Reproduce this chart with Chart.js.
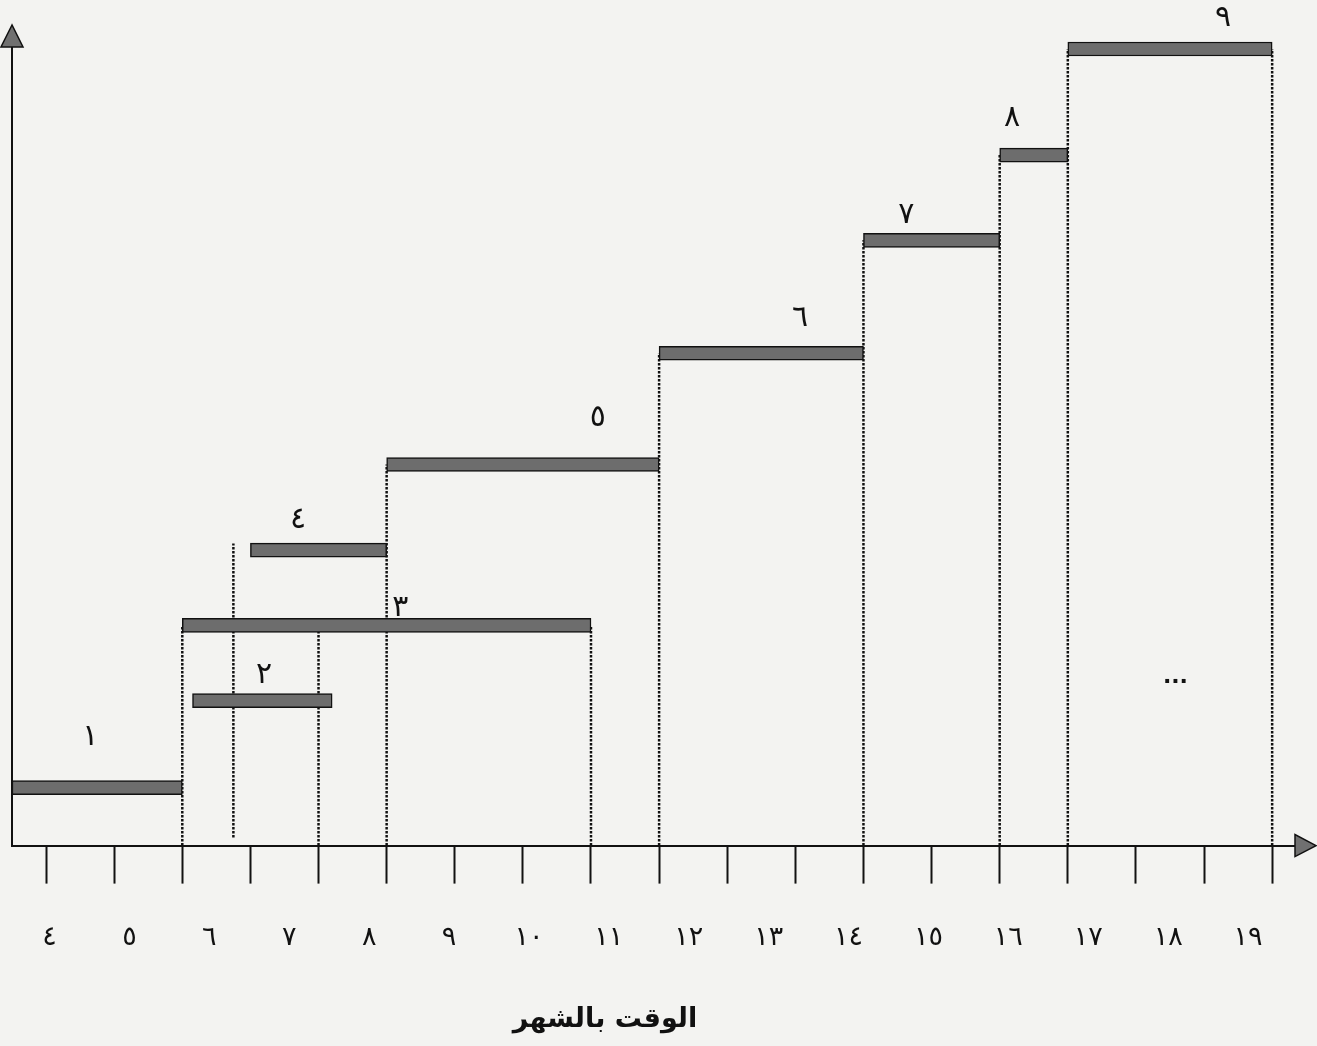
<!DOCTYPE html>
<html lang="ar">
<head>
<meta charset="utf-8">
<title>الوقت بالشهر</title>
<script src="https://cdn.jsdelivr.net/npm/chart.js@4.4.1/dist/chart.umd.min.js"></script>
<style>
  html, body { margin: 0; padding: 0; background: #f3f3f1; }
  #wrap { position: relative; width: 1317px; height: 1046px; }
</style>
</head>
<body>
<div id="wrap"><canvas id="chart"></canvas></div>
<script>
  // Activities: start / end on the month axis (in tick steps) and their height.
  var barNames = ['١', '٢', '٣', '٤', '٥', '٦', '٧', '٨', '٩'];
  var barStart = [-0.5, 2.15, 2, 3, 5, 9, 12, 14, 15];
  var barEnd   = [2, 4.2, 8, 5, 9, 12, 14, 15, 18];
  var barLevel = [7.25, 18.1, 27.5, 36.9, 47.6, 61.5, 75.6, 86.25, 99.5];

  // Where each activity number is written.
  var nameX = [0.65, 3.2, 5.2, 3.7, 8.1, 11.07, 12.63, 14.18, 17.28];
  var nameY = [13.5, 21.25, 29.6, 40.6, 53.4, 65.9, 78.75, 90.9, 103.4];

  // The trailing "..." mark.
  var moreX = 16.58;
  var moreY = 21;

  // Dotted drop lines down to the time axis.
  var dropX      = [2, 2.75, 4, 5, 8, 9, 12, 14, 15, 18];
  var dropBottom = [0, 1, 0, 0, 0, 0, 0, 0, 0, 0];
  var dropTop    = [27.5, 37.75, 27.5, 47.6, 27.5, 61.5, 75.6, 86.25, 99.5, 99.5];

  // Month labels under the axis.
  var monthValues = [4, 5, 6, 7, 8, 9, 10, 11, 12, 13, 14, 15, 16, 17, 18, 19];
  var monthLabels = ['٤', '٥', '٦', '٧', '٨', '٩', '١٠', '١١', '١٢', '١٣', '١٤', '١٥', '١٦', '١٧', '١٨', '١٩'];

  var axisCaption = 'الوقت بالشهر';

  var INK = '#111111';
  var BAR_GREY = '#6d6d6d';

  var bars = barStart.map(function (s, i) {
    return { x: [s, barEnd[i]], y: barLevel[i] };
  });

  var dropSets = dropX.map(function (x, i) {
    return {
      type: 'line',
      data: [{ x: x, y: dropBottom[i] }, { x: x, y: dropTop[i] }],
      borderColor: INK,
      borderWidth: 2.5,
      borderDash: [2.5, 1.5],
      pointRadius: 0,
      fill: false,
      order: 2
    };
  });

  // Axis arrowheads, activity numbers and the axis caption.
  var sketchExtras = {
    id: 'sketchExtras',
    afterDraw: function (chart) {
      var ctx = chart.ctx;
      var area = chart.chartArea;
      var xs = chart.scales.x;
      var ys = chart.scales.y;

      ctx.save();
      ctx.fillStyle = '#707070';
      ctx.strokeStyle = INK;
      ctx.lineWidth = 1.5;
      ctx.lineJoin = 'miter';

      ctx.beginPath();
      ctx.moveTo(area.left, area.top - 5);
      ctx.lineTo(area.left - 11, area.top + 17);
      ctx.lineTo(area.left + 11, area.top + 17);
      ctx.closePath();
      ctx.fill();
      ctx.stroke();

      ctx.beginPath();
      ctx.moveTo(area.right + 20, area.bottom);
      ctx.lineTo(area.right - 1, area.bottom - 11);
      ctx.lineTo(area.right - 1, area.bottom + 11);
      ctx.closePath();
      ctx.fill();
      ctx.stroke();

      ctx.fillStyle = INK;
      ctx.textAlign = 'center';
      ctx.textBaseline = 'middle';
      ctx.font = '30px "DejaVu Sans", sans-serif';
      barNames.forEach(function (name, i) {
        ctx.fillText(name, xs.getPixelForValue(nameX[i]), ys.getPixelForValue(nameY[i]));
      });

      ctx.font = 'bold 22px "DejaVu Sans", sans-serif';
      ctx.fillText('...', xs.getPixelForValue(moreX), ys.getPixelForValue(moreY));

      ctx.font = 'bold 27px "DejaVu Sans", sans-serif';
      ctx.fillText(axisCaption, 605, 1020);
      ctx.restore();
    }
  };

  new Chart(document.getElementById('chart'), {
    type: 'bar',
    data: {
      datasets: [{
        type: 'bar',
        indexAxis: 'y',
        data: bars,
        backgroundColor: BAR_GREY,
        borderColor: INK,
        borderWidth: 1.5,
        borderSkipped: false,
        barThickness: 14,
        order: 1
      }].concat(dropSets)
    },
    options: {
      responsive: true,
      maintainAspectRatio: false,
      animation: false,
      layout: {
        padding: { left: 12, right: 21, top: 30, bottom: 54 }
      },
      plugins: {
        legend: { display: false },
        tooltip: { enabled: false }
      },
      scales: {
        x: {
          type: 'linear',
          position: 'bottom',
          min: -0.5,
          max: 18.35,
          offset: false,
          border: { display: true, color: INK, width: 2 },
          grid: {
            display: true,
            drawOnChartArea: false,
            drawTicks: true,
            tickLength: 38,
            tickColor: INK,
            tickWidth: 2,
            offset: false
          },
          ticks: {
            display: false,
            stepSize: 1,
            autoSkip: false,
            includeBounds: false
          }
        },
        x2: {
          type: 'linear',
          position: 'bottom',
          axis: 'x',
          min: 3.53,
          max: 19.6,
          offset: false,
          border: { display: false },
          grid: { display: false, drawTicks: false },
          ticks: {
            stepSize: 1,
            autoSkip: false,
            includeBounds: false,
            maxRotation: 0,
            padding: 38,
            color: INK,
            font: { family: '"DejaVu Sans", sans-serif', size: 27 },
            callback: function (value) {
              var i = monthValues.indexOf(value);
              return i < 0 ? '' : monthLabels[i];
            }
          }
        },
        y: {
          type: 'linear',
          min: 0,
          max: 101.875,
          offset: false,
          border: { display: true, color: INK, width: 2 },
          grid: { display: false, drawTicks: false },
          ticks: { display: false }
        }
      }
    },
    plugins: [sketchExtras]
  });
</script>
</body>
</html>
